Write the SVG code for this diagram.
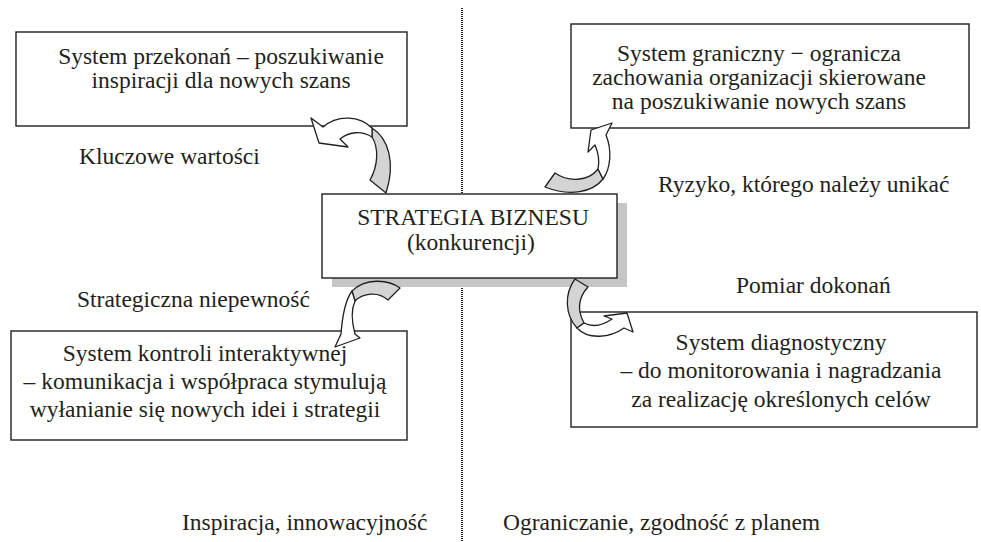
<svg xmlns="http://www.w3.org/2000/svg" width="981" height="542" viewBox="0 0 981 542">
<style>
text{font-family:"Liberation Serif","Times New Roman",serif;font-size:23.5px;fill:#231f20}
.c{text-anchor:middle}
.box{fill:#fff;stroke:#231f20;stroke-width:1.4}
.g{fill:#d4d4d4;stroke:#231f20;stroke-width:1.3;stroke-linejoin:round}
.w{fill:#fff;stroke:#231f20;stroke-width:1.3;stroke-linejoin:round}
</style>
<rect width="981" height="542" fill="#fff"/>
<line x1="462" y1="8" x2="462" y2="542" stroke="#231f20" stroke-width="2" stroke-dasharray="1 1"/>

<g id="belief">
<rect class="box" x="16" y="32" width="391" height="94"/>
<text class="c" x="221" y="64">System przekonań – poszukiwanie</text>
<text class="c" x="221" y="88">inspiracji dla nowych szans</text>
</g>
<g id="boundary">
<rect class="box" x="571" y="24" width="398" height="104"/>
<text class="c" x="759" y="61">System graniczny − ogranicza</text>
<text class="c" x="759" y="85">zachowania organizacji skierowane</text>
<text class="c" x="759" y="109">na poszukiwanie nowych szans</text>
</g>
<g id="strategy">
<rect x="332" y="203" width="295" height="84" fill="#c6c6c6"/>
<rect class="box" x="322" y="194" width="295" height="84"/>
<text class="c" x="473" y="225">STRATEGIA BIZNESU</text>
<text class="c" x="471" y="250">(konkurencji)</text>
</g>
<g id="interactive">
<rect class="box" x="11" y="331" width="396" height="109"/>
<text class="c" x="205" y="361">System kontroli interaktywnej</text>
<text class="c" x="205" y="389">– komunikacja i współpraca stymulują</text>
<text class="c" x="205" y="417">wyłanianie się nowych idei i strategii</text>
</g>
<g id="diagnostic">
<rect class="box" x="571" y="312" width="406" height="115"/>
<text class="c" x="781" y="350">System diagnostyczny</text>
<text class="c" x="781" y="378">– do monitorowania i nagradzania</text>
<text class="c" x="781" y="407">za realizację określonych celów</text>
</g>

<g id="labels">
<text x="79" y="164">Kluczowe wartości</text>
<text x="658" y="192">Ryzyko, którego należy unikać</text>
<text x="77" y="307">Strategiczna niepewność</text>
<text x="736" y="293">Pomiar dokonań</text>
<text x="182" y="530">Inspiracja, innowacyjność</text>
<text x="503" y="530">Ograniczanie, zgodność z planem</text>
</g>

<g id="connectors">
<path class="g" d="M372 128 C388 138 396 162 386 193 L370 180 C378 166 379 148 372 137 Z"/>
<path class="w" d="M372 128 C360 116 338 114 323 127 L311 118 L319 143 L348 147 L340 139 C350 131 362 131 372 137 Z"/>
<path class="g" d="M545 187 L555 173 C568 182 588 182 598 169 L603 179 C593 192 570 197 545 187 Z"/>
<path class="w" d="M598 169 C600 160 598 152 595 145 L588 152 L591 130 L612 123 L606 135 C612 150 611 168 603 179 Z"/>
<path class="g" d="M400 288 C388 279 365 278 352 291 L355 301 C363 293 378 291 388 300 Z"/>
<path class="w" d="M352 291 C344 302 342 320 341 334 L335 347 L360 338 L355 334 C352 323 351 310 355 301 Z"/>
<path class="g" d="M575 279 C564 294 565 315 577 328 L584 323 C577 310 578 298 588 287 Z"/>
<path class="w" d="M577 328 C588 340 610 338 624 328 L633 332 L627 313 L604 316 L612 319 C602 326 592 327 584 323 Z"/>
</g>
</svg>
